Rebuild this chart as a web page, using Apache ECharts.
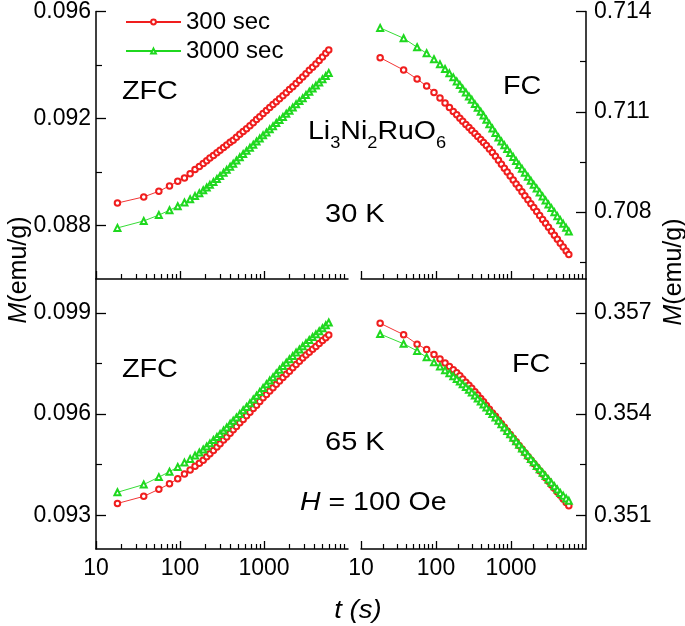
<!DOCTYPE html>
<html>
<head>
<meta charset="utf-8">
<script src="https://cdn.jsdelivr.net/npm/echarts@6/dist/echarts.min.js"></script>
<style>
html,body{margin:0;padding:0;background:#fff;}
#chart{width:685px;height:626px;}
</style>
</head>
<body>
<div id="chart"></div>
<script>
// time (s)
const tSec = [18, 37, 56, 75, 94, 113, 132, 151, 170, 189, 208, 227, 250, 275, 300, 330, 360, 395, 430, 470,
  515, 565, 620, 680, 745, 815, 890, 975, 1070, 1170, 1280, 1400, 1530, 1680, 1840, 2010, 2200, 2410, 2640, 2890,
  3160, 3460, 3790, 4150, 4540, 4970, 5440, 5900];

// 30 K, ZFC (emu/g)
const zfc30_300 = [0.08884,0.08907,0.08928,0.08948,0.08965,0.08978,0.08993,0.09009,0.09021,0.09032,
  0.09042,0.09052,0.09062,0.09072,0.09081,0.09092,0.09101,0.09111,0.09119,0.09130,
  0.09141,0.09151,0.09162,0.09173,0.09184,0.09196,0.09207,0.09219,0.09230,0.09241,
  0.09252,0.09263,0.09274,0.09285,0.09296,0.09308,0.09319,0.09331,0.09343,0.09355,
  0.09367,0.09380,0.09392,0.09404,0.09417,0.09430,0.09444,0.09456];
const zfc30_3000 = [0.08791,0.08817,0.08839,0.08857,0.08872,0.08886,0.08898,0.08910,0.08921,0.08932,
  0.08942,0.08952,0.08963,0.08974,0.08985,0.08997,0.09008,0.09020,0.09031,0.09043,
  0.09055,0.09067,0.09079,0.09091,0.09102,0.09114,0.09125,0.09137,0.09148,0.09160,
  0.09171,0.09183,0.09194,0.09206,0.09218,0.09229,0.09241,0.09253,0.09265,0.09276,
  0.09288,0.09300,0.09312,0.09323,0.09335,0.09347,0.09359,0.09370];

// 30 K, FC
const fc30_300 = [0.71262,0.71225,0.71198,0.71177,0.71158,0.71141,0.71126,0.71113,0.71101,0.71091,
  0.71081,0.71072,0.71062,0.71053,0.71044,0.71035,0.71026,0.71017,0.71008,0.70999,
  0.70989,0.70978,0.70967,0.70955,0.70943,0.70931,0.70920,0.70908,0.70896,0.70884,
  0.70873,0.70861,0.70849,0.70837,0.70825,0.70814,0.70802,0.70790,0.70778,0.70767,
  0.70755,0.70743,0.70731,0.70719,0.70707,0.70696,0.70684,0.70673];
const fc30_3000 = [0.71351,0.71320,0.71293,0.71275,0.71257,0.71242,0.71228,0.71215,0.71203,0.71191,
  0.71180,0.71169,0.71158,0.71146,0.71136,0.71123,0.71112,0.71100,0.71089,0.71076,
  0.71063,0.71050,0.71037,0.71023,0.71011,0.71000,0.70989,0.70977,0.70965,0.70953,
  0.70941,0.70930,0.70918,0.70906,0.70894,0.70882,0.70871,0.70859,0.70847,0.70835,
  0.70823,0.70812,0.70800,0.70788,0.70776,0.70765,0.70753,0.70742];

// 65 K, ZFC
const zfc65_300 = [0.09335,0.09356,0.09377,0.09393,0.09408,0.09422,0.09434,0.09445,0.09454,0.09463,
  0.09473,0.09482,0.09492,0.09502,0.09512,0.09523,0.09532,0.09543,0.09553,0.09563,
  0.09574,0.09584,0.09595,0.09605,0.09616,0.09626,0.09637,0.09648,0.09658,0.09668,
  0.09678,0.09688,0.09698,0.09708,0.09718,0.09727,0.09737,0.09747,0.09756,0.09766,
  0.09775,0.09783,0.09792,0.09800,0.09809,0.09818,0.09826,0.09834];
const zfc65_3000 = [0.09368,0.09391,0.09413,0.09429,0.09443,0.09456,0.09467,0.09477,0.09486,0.09495,
  0.09504,0.09513,0.09523,0.09532,0.09541,0.09551,0.09560,0.09571,0.09580,0.09590,
  0.09600,0.09611,0.09621,0.09632,0.09643,0.09654,0.09665,0.09677,0.09688,0.09699,
  0.09709,0.09720,0.09731,0.09742,0.09752,0.09762,0.09772,0.09782,0.09791,0.09801,
  0.09810,0.09819,0.09828,0.09836,0.09845,0.09854,0.09863,0.09871];

// 65 K, FC
const fc65_300 = [0.35669,0.35635,0.35607,0.35591,0.35576,0.35563,0.35551,0.35541,0.35531,0.35522,
  0.35513,0.35504,0.35494,0.35485,0.35476,0.35466,0.35456,0.35446,0.35436,0.35425,
  0.35414,0.35403,0.35393,0.35382,0.35371,0.35361,0.35350,0.35339,0.35328,0.35318,
  0.35307,0.35296,0.35285,0.35274,0.35264,0.35253,0.35243,0.35232,0.35222,0.35211,
  0.35201,0.35190,0.35180,0.35169,0.35159,0.35148,0.35138,0.35128];
const fc65_3000 = [0.35637,0.35608,0.35587,0.35568,0.35553,0.35541,0.35530,0.35521,0.35512,0.35504,
  0.35496,0.35488,0.35480,0.35472,0.35464,0.35455,0.35446,0.35437,0.35428,0.35419,
  0.35409,0.35400,0.35390,0.35380,0.35370,0.35360,0.35350,0.35340,0.35330,0.35319,
  0.35309,0.35298,0.35288,0.35278,0.35267,0.35257,0.35246,0.35236,0.35226,0.35216,
  0.35206,0.35196,0.35186,0.35176,0.35166,0.35158,0.35150,0.35143];

// ticks
const xMajorTicks = [10, 100, 1000];
const xMinorTicks = [20,30,40,50,60,70,80,90,200,300,400,500,600,700,800,900,2000,3000,4000,5000,6000,7000,8000,9000];
const yTicksTL = [0.088, 0.092, 0.096];
const yMinorTL = [0.090, 0.094];
const yTicksTR = [0.708, 0.711, 0.714];
const yMinorTR = [0.7065, 0.7095, 0.7125];
const yTicksBL = [0.093, 0.096, 0.099];
const yMinorBL = [0.0945, 0.0975];
const yTicksBR = [0.351, 0.354, 0.357];
const yMinorBR = [0.3525, 0.3555];

const seriesNames = ['300 sec', '3000 sec'];
const RED = '#f01e1e';
const GREEN = '#1fd81f';
const FONT = "'Liberation Sans', Arial, Helvetica, sans-serif";
const TICKFONT = 23;

function xAxes(g, showLabels) {
  const common = {type: 'log', logBase: 10, gridIndex: g, position: 'bottom', min: 10, max: 10000,
    splitLine: {show: false}, minorTick: {show: false}, minorSplitLine: {show: false}};
  return [
    Object.assign({}, common, {
      axisLine: {show: true, onZero: false, lineStyle: {color: '#000', width: 1.5}},
      axisTick: {show: true, inside: true, length: 8, customValues: xMajorTicks, lineStyle: {color: '#000', width: 1.3}},
      axisLabel: {show: showLabels, customValues: xMajorTicks, fontSize: TICKFONT, color: '#000', fontFamily: FONT, margin: 8,
        formatter: v => String(Math.round(v))}
    }),
    Object.assign({}, common, {
      axisLine: {show: false, onZero: false},
      axisTick: {show: true, inside: true, length: 5, customValues: xMinorTicks, lineStyle: {color: '#000', width: 1.2}},
      axisLabel: {show: false}
    })
  ];
}
function yAxes(g, pos, min, max, major, minor, margin) {
  const common = {type: 'value', gridIndex: g, position: pos, min: min, max: max, splitLine: {show: false}};
  return [
    Object.assign({}, common, {
      axisLine: {show: true, onZero: false, lineStyle: {color: '#000', width: 1.5}},
      axisTick: {show: true, inside: true, length: 10, customValues: major, lineStyle: {color: '#000', width: 1.3}},
      axisLabel: {customValues: major, formatter: v => v.toFixed(3), fontSize: TICKFONT, color: '#000', fontFamily: FONT, margin: margin}
    }),
    Object.assign({}, common, {
      axisLine: {show: false, onZero: false},
      axisTick: {show: true, inside: true, length: 6, customValues: minor, lineStyle: {color: '#000', width: 1.2}},
      axisLabel: {show: false}
    })
  ];
}
function mk(name, g, ys, color, symbol) {
  return {
    name: name, type: 'line', xAxisIndex: 2 * g, yAxisIndex: 2 * g,
    data: tSec.map((t, i) => [t, ys[i]]),
    symbol: symbol, symbolSize: symbol === 'emptyTriangle' ? 6 : 5.5, showAllSymbol: true,
    lineStyle: {color: color, width: 0.9},
    itemStyle: {color: color, borderColor: color, borderWidth: 0.8},
    emphasis: {disabled: true}, z: symbol === 'emptyTriangle' ? 3 : 2
  };
}
function txt(x, y, text, size, sx) {
  return {
    type: 'text', x: x, y: y, scaleX: sx || 1,
    style: {text: text, fill: '#000', font: size + 'px ' + FONT, textAlign: 'left', textVerticalAlign: 'middle'}
  };
}

const chart = echarts.init(document.getElementById('chart'), null, {renderer: 'canvas'});
chart.setOption({
  animation: false,
  backgroundColor: '#fff',
  grid: [
    {left: 96, top: 11, width: 252, height: 268},
    {left: 361, top: 11, width: 225, height: 268},
    {left: 96, top: 279, width: 252, height: 270},
    {left: 361, top: 279, width: 225, height: 270}
  ],
  xAxis: [].concat(xAxes(0, false), xAxes(1, false), xAxes(2, true), xAxes(3, true)),
  yAxis: [].concat(
    yAxes(0, 'left', 0.086, 0.096, yTicksTL, yMinorTL, 5),
    yAxes(1, 'right', 0.706, 0.714, yTicksTR, yMinorTR, 8),
    yAxes(2, 'left', 0.092, 0.100, yTicksBL, yMinorBL, 5),
    yAxes(3, 'right', 0.350, 0.358, yTicksBR, yMinorBR, 8)
  ),
  legend: {
    data: seriesNames, orient: 'vertical', left: 120, top: 5,
    itemWidth: 55, itemHeight: 6, itemGap: 5, selectedMode: false,
    textStyle: {fontSize: 24, color: '#000', fontFamily: FONT}
  },
  series: [
    mk(seriesNames[0], 0, zfc30_300, RED, 'emptyCircle'),
    mk(seriesNames[1], 0, zfc30_3000, GREEN, 'emptyTriangle'),
    mk(seriesNames[0], 1, fc30_300, RED, 'emptyCircle'),
    mk(seriesNames[1], 1, fc30_3000, GREEN, 'emptyTriangle'),
    mk(seriesNames[0], 2, zfc65_300, RED, 'emptyCircle'),
    mk(seriesNames[1], 2, zfc65_3000, GREEN, 'emptyTriangle'),
    mk(seriesNames[0], 3, fc65_300, RED, 'emptyCircle'),
    mk(seriesNames[1], 3, fc65_3000, GREEN, 'emptyTriangle')
  ],
  graphic: [
    txt(122, 92, 'ZFC', 25, 1.15),
    txt(503, 87, 'FC', 25, 1.15),
    {
      type: 'text', x: 308, y: 120, scaleX: 1.14,
      style: {
        text: '{m|Li}{s|3}{m|Ni}{s|2}{m|RuO}{s|6}', fill: '#000', textAlign: 'left', textVerticalAlign: 'top',
        rich: {
          m: {fontSize: 25, fontFamily: FONT, lineHeight: 25, verticalAlign: 'top', fill: '#000'},
          s: {fontSize: 16, fontFamily: FONT, verticalAlign: 'bottom', padding: [16, 0, 0, 0], fill: '#000'}
        }
      }
    },
    txt(325, 215, '30 K', 25, 1.16),
    txt(122, 370, 'ZFC', 25, 1.15),
    txt(512, 365, 'FC', 25, 1.15),
    txt(325, 443, '65 K', 25, 1.16),
    {
      type: 'text', x: 300, y: 503, scaleX: 1.14,
      style: {
        text: '{i|H} = 100 Oe', fill: '#000', font: '25px ' + FONT, textAlign: 'left', textVerticalAlign: 'middle',
        rich: {i: {fontSize: 25, fontFamily: FONT, fontStyle: 'italic', fill: '#000'}}
      }
    },
    {
      type: 'text', x: 358, y: 611, scaleX: 1.1,
      style: {text: 't (s)', fill: '#000', font: 'italic 25px ' + FONT, textAlign: 'center', textVerticalAlign: 'middle'}
    },
    {
      type: 'text', x: 19, y: 270, rotation: Math.PI / 2,
      style: {
        text: '{i|M}(emu/g)', fill: '#000', font: '25px ' + FONT, textAlign: 'center', textVerticalAlign: 'middle',
        rich: {i: {fontSize: 25, fontFamily: FONT, fontStyle: 'italic', fill: '#000'}}
      }
    },
    {
      type: 'text', x: 674, y: 272, rotation: Math.PI / 2,
      style: {
        text: '{i|M}(emu/g)', fill: '#000', font: '25px ' + FONT, textAlign: 'center', textVerticalAlign: 'middle',
        rich: {i: {fontSize: 25, fontFamily: FONT, fontStyle: 'italic', fill: '#000'}}
      }
    }
  ]
});
</script>
</body>
</html>
